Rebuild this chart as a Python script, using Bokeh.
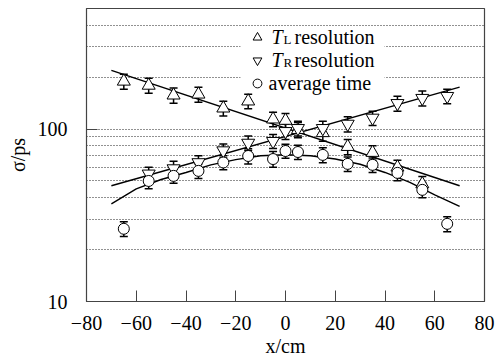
from bokeh.plotting import figure
from bokeh.models import (FixedTicker, Whisker, TeeHead, ColumnDataSource, Legend,
                          LegendItem, Label, BoxAnnotation)
from bokeh.embed import file_html
from bokeh.resources import INLINE

# ---------------- data ----------------
x_tl = [-65, -55, -45, -35, -25, -15, -5, 0, 5, 15, 25, 35, 45, 55]
tl = [189, 179, 157, 159, 132, 145, 114, 112, 99, 95, 79, 73, 60, 48]
tl_err = [19, 18, 16, 16, 13, 14, 11, 11, 10, 10, 8, 7, 6, 5]

x_tr = [-55, -45, -35, -25, -15, -5, 0, 5, 15, 25, 35, 45, 55, 65]
tr = [55, 59, 64, 75, 83, 85, 97, 101, 101, 107, 116, 141, 151, 155]
tr_err = [5, 6, 6, 7, 8, 8, 10, 10, 10, 11, 11, 14, 15, 15]

x_avg = [-65, -55, -45, -35, -25, -15, -5, 0, 5, 15, 25, 35, 45, 55, 65]
avg = [26.4, 50, 53.5, 57.2, 64, 69.8, 67, 74.6, 73.6, 70.8, 62.8, 62, 55.7, 44.4, 28.2]
avg_err = [2.6, 5, 5, 5.5, 6, 7, 7, 7, 7, 7, 6, 6, 5.5, 4.5, 2.8]

fit_lin_x = [-70, 70]
tl_fit = [219, 46.9]
tr_fit = [46.9, 175]

fit_avg_x = [-70, -60, -50, -40, -30, -20, -10, 0, 10, 20, 30, 40, 50, 60, 70]
avg_fit = [36.8, 45, 51, 56, 62, 66.5, 70, 71, 70, 67, 62.5, 56, 49, 41.5, 35.6]

x_ticks = [-80, -60, -40, -20, 0, 20, 40, 60, 80]
x_tick_labels = ["\u221280", "\u221260", "\u221240", "\u221220", "0", "20", "40", "60", "80"]
y_ticks = [10, 100]
y_tick_labels = ["10", "100"]
y_grid = [20, 30, 40, 50, 60, 70, 80, 90, 100, 200, 300, 400]

x_title = "x/cm"
y_title = "\u03c3/ps"

FONT = "Liberation Serif"

p = figure(width=496, height=360, x_range=(-80, 80), y_range=(10, 500),
           y_axis_type="log", output_backend="svg", toolbar_location=None,
           min_border_left=86, min_border_right=12, min_border_top=8,
           min_border_bottom=59)
p.background_fill_color = "white"
p.outline_line_color = "#444444"
p.outline_line_width = 1.2

# axes
p.xaxis.ticker = FixedTicker(ticks=x_ticks)
p.xaxis.major_label_overrides = {t: l for t, l in zip(x_ticks, x_tick_labels)}
p.yaxis.ticker = FixedTicker(ticks=y_ticks, minor_ticks=y_grid)
p.yaxis.major_label_overrides = {t: l for t, l in zip(y_ticks, y_tick_labels)}
p.xaxis.axis_label = x_title
p.yaxis.axis_label = y_title
for ax in (p.xaxis, p.yaxis):
    ax.major_label_text_font = FONT
    ax.major_label_text_font_size = "20px"
    ax.major_label_text_color = "black"
    ax.axis_label_text_font = FONT
    ax.axis_label_text_font_size = "20px"
    ax.axis_label_text_font_style = "normal"
    ax.axis_label_text_color = "black"
    ax.axis_line_color = "#444444"
    ax.major_tick_line_color = "#444444"
    ax.major_tick_in = 11
    ax.major_tick_out = 0
    ax.minor_tick_line_color = None
p.xaxis.major_label_standoff = 14
p.xaxis.axis_label_standoff = 2
p.yaxis.major_label_standoff = 15
p.yaxis.axis_label_standoff = 6

p.xgrid.visible = False
p.ygrid.ticker = FixedTicker(ticks=y_grid)
p.ygrid.grid_line_color = "#222222"
p.ygrid.grid_line_dash = "1 2"
p.ygrid.grid_line_width = 1

# white backdrop of the legend (hides the grid)
p.add_layout(BoxAnnotation(left=154, right=298, bottom=207, top=275,
                           left_units="screen", right_units="screen",
                           bottom_units="screen", top_units="screen",
                           fill_color="white", fill_alpha=1, line_color=None,
                           level="underlay"))

# fits
p.line(fit_lin_x, tl_fit, line_color="black", line_width=1.4)
p.line(fit_lin_x, tr_fit, line_color="black", line_width=1.4)
p.line(fit_avg_x, avg_fit, line_color="black", line_width=1.4)


def add_series(xs, ys, es, marker, size):
    src = ColumnDataSource(dict(x=xs, y=ys,
                                upper=[v + e for v, e in zip(ys, es)],
                                lower=[v - e for v, e in zip(ys, es)]))
    w = Whisker(source=src, base="x", upper="upper", lower="lower",
                line_color="black", line_width=1.5,
                upper_head=TeeHead(size=8, line_width=1.5, line_color="black"),
                lower_head=TeeHead(size=8, line_width=1.5, line_color="black"))
    p.add_layout(w)
    r = p.scatter("x", "y", source=src, marker=marker, size=size,
                  fill_color="white", line_color="black", line_width=1)
    return r


r_tl = add_series(x_tl, tl, tl_err, "triangle", 13)
r_tr = add_series(x_tr, tr, tr_err, "inverted_triangle", 13)
r_avg = add_series(x_avg, avg, avg_err, "circle", 11)

legend = Legend(items=[LegendItem(label=" ", renderers=[r_tl]),
                       LegendItem(label=" ", renderers=[r_tr]),
                       LegendItem(label=" ", renderers=[r_avg])],
                location=(160, 207), orientation="vertical",
                glyph_width=22, glyph_height=22, label_height=22, label_width=111,
                label_standoff=5, spacing=1, padding=0, margin=0,
                label_text_font_size="2px",
                background_fill_alpha=0, border_line_color=None)
p.add_layout(legend)


def lab(x, y, text, size="20px", style="normal"):
    lb = Label(x=x, y=y, x_units="screen", y_units="screen", text=text,
               text_font=FONT, text_font_size=size, text_font_style=style,
               text_color="black", text_baseline="alphabetic",
               text_align="left", level="overlay")
    p.add_layout(lb)


# legend texts
lab(185, 265, "T", style="italic")
lab(197, 262, "L", size="13px")
lab(208, 265, "resolution")
lab(185, 242, "T", style="italic")
lab(197, 239, "R", size="13px")
lab(208, 242, "resolution")
lab(182, 219, "average time")

open("out.html", "w").write(file_html(p, INLINE))
